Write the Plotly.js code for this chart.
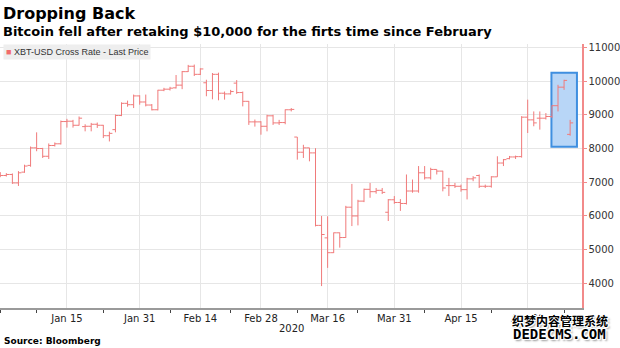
<!DOCTYPE html>
<html>
<head>
<meta charset="utf-8">
<script src="https://cdn.plot.ly/plotly-3.0.1.min.js"></script>
<style>html,body{margin:0;padding:0;background:#fff;}#chart{width:620px;height:348px;}</style>
</head>
<body>
<div id="chart"></div>
<script>
// Weekday bars of XBT-USD
const dates = ['2019-12-31','2020-01-01','2020-01-02','2020-01-03','2020-01-06','2020-01-07','2020-01-08','2020-01-09','2020-01-10','2020-01-13','2020-01-14','2020-01-15','2020-01-16','2020-01-17','2020-01-20','2020-01-21','2020-01-22','2020-01-23','2020-01-24','2020-01-27','2020-01-28','2020-01-29','2020-01-30','2020-01-31','2020-02-03','2020-02-04','2020-02-05','2020-02-06','2020-02-07','2020-02-10','2020-02-11','2020-02-12','2020-02-13','2020-02-14','2020-02-17','2020-02-18','2020-02-19','2020-02-20','2020-02-21','2020-02-24','2020-02-25','2020-02-26','2020-02-27','2020-02-28','2020-03-02','2020-03-03','2020-03-04','2020-03-05','2020-03-06','2020-03-09','2020-03-10','2020-03-11','2020-03-12','2020-03-13','2020-03-16','2020-03-17','2020-03-18','2020-03-19','2020-03-20','2020-03-23','2020-03-24','2020-03-25','2020-03-26','2020-03-27','2020-03-30','2020-03-31','2020-04-01','2020-04-02','2020-04-03','2020-04-06','2020-04-07','2020-04-08','2020-04-09','2020-04-10','2020-04-13','2020-04-14','2020-04-15','2020-04-16','2020-04-17','2020-04-20','2020-04-21','2020-04-22','2020-04-23','2020-04-24','2020-04-27','2020-04-28','2020-04-29','2020-04-30','2020-05-01','2020-05-04','2020-05-05','2020-05-06','2020-05-07','2020-05-08','2020-05-11'];
const opens  = [7250,7200,7230,6980,7300,7500,8020,8000,7770,8090,8140,8800,8810,8690,8650,8660,8720,8690,8380,8560,8980,9340,9300,9560,9380,9290,9150,9730,9760,9800,9880,10280,10440,10200,9950,9720,10200,9640,9620,9940,9660,9400,8790,8790,8660,8970,8760,8770,9150,8340,7890,8020,7870,5720,5350,4910,5500,5360,6260,6000,6440,6790,6720,6760,6110,6480,6400,6370,6740,6740,7280,7130,7380,7330,6900,6900,6880,6780,7100,7200,6880,6880,7160,7570,7700,7750,7760,8930,8850,8900,8900,8950,9270,9820,8420];
const highs  = [7300,7270,7260,7330,7520,8060,8480,8020,8150,8180,8830,8880,8850,8950,8720,8760,8770,8700,8500,9010,9370,9420,9600,9580,9600,9320,9740,9800,9830,10180,10300,10480,10490,10380,10040,10240,10250,9690,9740,10030,9690,9410,8860,8810,9000,9000,8850,9160,9200,8340,8110,8020,8010,6000,5990,5510,5510,6300,6950,6480,6810,6980,6830,6830,6500,6590,6500,7230,7080,7480,7480,7430,7380,7340,7130,6980,6930,7130,7180,7230,6930,7180,7770,7690,7780,7790,8960,9450,9100,9100,9050,9280,9890,10040,8850];
const lows   = [7150,7170,6950,6890,7280,7460,7920,7720,7690,8060,8120,8620,8620,8680,8510,8510,8610,8310,8210,8480,8960,9240,9200,9300,9250,9130,9130,9700,9720,9780,9760,10270,10150,10180,9550,9460,9430,9450,9600,9620,9250,8700,8650,8410,8510,8700,8700,8720,9100,7670,7720,7620,5690,3920,4460,4900,5060,5350,5700,5720,6410,6540,6660,6650,5850,6360,6150,6340,6690,6690,7080,7080,7230,6730,6590,6830,6720,6490,7030,6830,6830,6840,7160,7480,7680,7690,7730,8460,8660,8560,8860,8900,9100,9740,8380];
const closes = [7200,7230,6980,7280,7480,8020,8000,7770,8090,8140,8800,8810,8690,8900,8660,8720,8690,8380,8450,8980,9340,9300,9560,9380,9290,9150,9730,9760,9790,9880,10280,10440,10200,10360,9720,10200,9640,9620,9690,9660,9400,8790,8790,8660,8970,8760,8770,9150,9160,7890,8020,7870,5720,5450,4910,5500,5360,6260,6000,6440,6790,6720,6760,6700,6480,6400,6370,6740,6740,7280,7130,7380,7330,6830,6900,6880,6780,7100,7130,6880,6880,7160,7570,7670,7750,7760,8930,8850,8760,8900,8950,9270,9820,10020,8760];

const tickDates  = ['2020-01-15','2020-01-31','2020-02-14','2020-02-28','2020-03-16','2020-03-31','2020-04-15','2020-04-30'];
const tickLabels = ['Jan 15','Jan 31','Feb 14','Feb 28','Mar 16','Mar 31','Apr 15','Apr 30'];
const minorTickDates = ['2019-12-31','2020-01-08','2020-01-23','2020-02-07','2020-02-21','2020-03-09','2020-03-23','2020-04-07','2020-04-22','2020-05-08'];
const yTicks = [4000,5000,6000,7000,8000,9000,10000,11000];

const highlightDates = ['2020-05-06 10:00','2020-05-12 15:00'];
const highlightValues = [8050,10250];

const noon = d => d + ' 12:00';
const barColor = '#f07a7a';
const halo = '1px 0 0 #fff, -1px 0 0 #fff, 0 1px 0 #fff, 0 -1px 0 #fff, 1px 1px 0 #fff, -1px -1px 0 #fff, 1px -1px 0 #fff, -1px 1px 0 #fff, 2px 2px 2px #999';

const trace = {
  type: 'ohlc',
  x: dates.map(noon),
  open: opens, high: highs, low: lows, close: closes,
  increasing: {line: {color: barColor, width: 1}},
  decreasing: {line: {color: barColor, width: 1}},
  tickwidth: 0.5,
  showlegend: false,
  hoverinfo: 'skip'
};

const layout = {
  width: 620, height: 348,
  margin: {l: 0, r: 38, t: 44, b: 40},
  paper_bgcolor: '#ffffff', plot_bgcolor: '#ffffff',
  font: {family: 'DejaVu Sans', size: 10, color: '#222'},
  showlegend: false,
  xaxis: {
    type: 'date',
    range: ['2019-12-31 11:00', '2020-05-13 11:00'],
    rangebreaks: [{bounds: ['sat', 'mon']}],
    rangeslider: {visible: false},
    tickmode: 'array',
    tickvals: tickDates.map(noon),
    ticktext: tickLabels,
    ticks: '',
    showgrid: true, gridcolor: '#e6e6e6', gridwidth: 1,
    showline: true, linecolor: '#9a9a9a', linewidth: 2,
    tickfont: {family: 'DejaVu Sans', size: 10, color: '#222'},
    minor: {tickmode: 'array', tickvals: minorTickDates.map(noon), ticks: 'outside', ticklen: 3, tickcolor: '#444', showgrid: false},
    fixedrange: true
  },
  yaxis: {
    side: 'right',
    range: [3270, 11100],
    tickmode: 'array', tickvals: yTicks,
    tickformat: 'd',
    showgrid: true, gridcolor: '#e6e6e6', gridwidth: 1,
    zeroline: false,
    showline: true, linecolor: '#f28a8a', linewidth: 1.5,
    ticks: 'outside', ticklen: 3, tickcolor: '#f28a8a',
    tickfont: {family: 'DejaVu Sans', size: 10, color: '#333'},
    fixedrange: true
  },
  shapes: [{
    type: 'rect', xref: 'x', yref: 'y', layer: 'between',
    x0: highlightDates[0], x1: highlightDates[1],
    y0: highlightValues[0], y1: highlightValues[1],
    fillcolor: '#b8d6f7', line: {color: '#3f8fe0', width: 2}
  }],
  annotations: [
    {xref: 'paper', yref: 'paper', x: 0.002, y: 1.117, xanchor: 'left', yanchor: 'middle', showarrow: false,
     text: '<b>Dropping Back</b>', font: {family: 'DejaVu Sans', size: 16, color: '#000'}},
    {xref: 'paper', yref: 'paper', x: 0.002, y: 1.049, xanchor: 'left', yanchor: 'middle', showarrow: false,
     text: '<b>Bitcoin fell after retaking $10,000 for the firts time since February</b>', font: {family: 'DejaVu Sans', size: 13, color: '#000'}},
    {xref: 'paper', yref: 'paper', x: 0.005, y: 0.97, xanchor: 'left', yanchor: 'middle', showarrow: false,
     text: '<span style="color:#f26b6b">■</span> XBT-USD Cross Rate - Last Price', bgcolor: '#eeeeee', borderpad: 2,
     font: {family: 'Liberation Sans', size: 9, color: '#333'}},
    {xref: 'paper', yref: 'paper', x: 0.5, y: -0.076, xanchor: 'center', yanchor: 'middle', showarrow: false,
     text: '2020', font: {family: 'DejaVu Sans', size: 10, color: '#222'}},
    {xref: 'paper', yref: 'paper', x: 0.003, y: -0.125, xanchor: 'left', yanchor: 'middle', showarrow: false,
     text: '<b>Source: Bloomberg</b>', font: {family: 'DejaVu Sans', size: 9, color: '#000'}},
    {xref: 'paper', yref: 'paper', x: 0.962, y: -0.049, xanchor: 'center', yanchor: 'middle', showarrow: false,
     text: '<b>织梦内容管理系统</b>', font: {family: 'Noto Sans CJK SC', size: 12, color: '#000', shadow: halo}},
    {xref: 'paper', yref: 'paper', x: 0.962, y: -0.098, xanchor: 'center', yanchor: 'middle', showarrow: false,
     text: '<b>DEDECMS.COM</b>', font: {family: 'DejaVu Sans Mono', size: 14, color: '#000', shadow: halo}}
  ]
};

Plotly.newPlot('chart', [trace], layout, {displayModeBar: false, staticPlot: true});
</script>
</body>
</html>
